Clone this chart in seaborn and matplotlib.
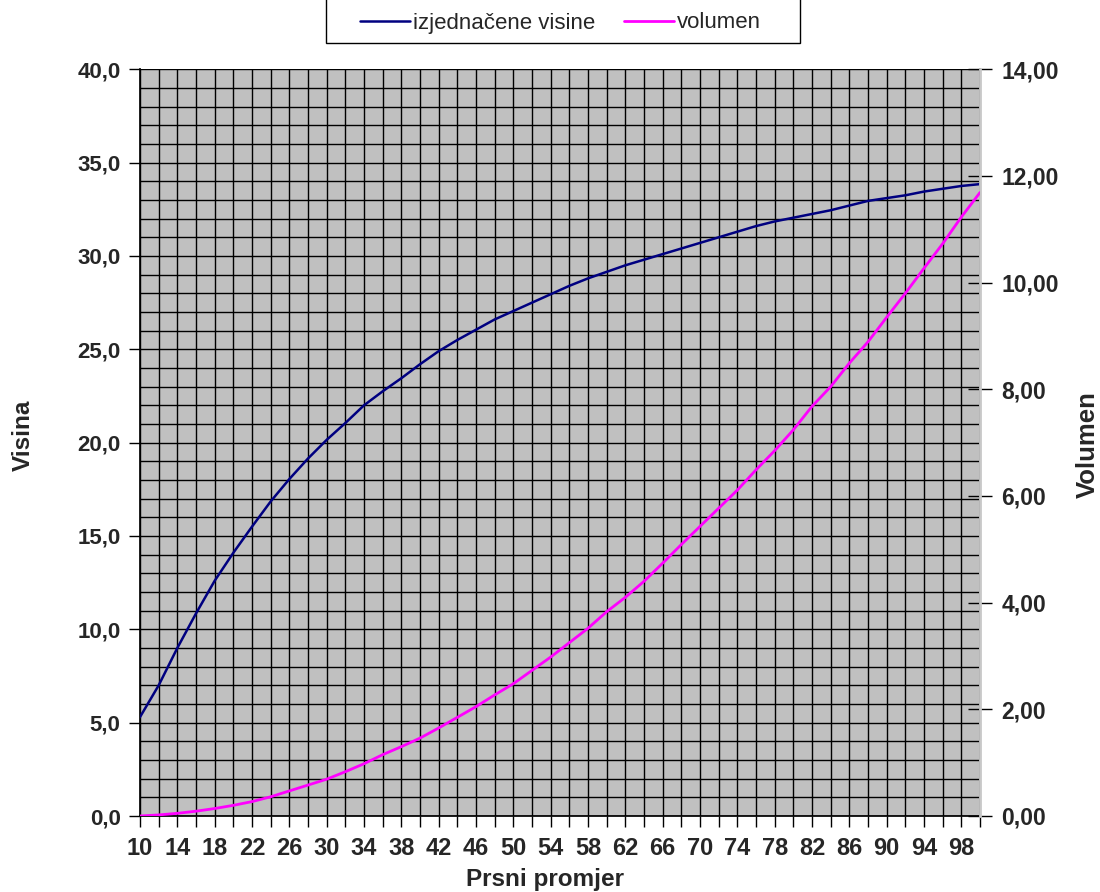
import matplotlib
matplotlib.use('Agg')
import matplotlib.pyplot as plt
import seaborn as sns
import pandas as pd
from matplotlib.ticker import FuncFormatter, MultipleLocator
from matplotlib.lines import Line2D
from matplotlib.patches import Rectangle

# Prsni promjer (cm), classes every 2 cm
promjer = list(range(10, 101, 2))

# izjednacene visine (m)
visine = [5.3, 7.0, 9.0, 10.85, 12.6, 14.1, 15.5, 16.85, 18.05, 19.15,
          20.15, 21.05, 22.0, 22.75, 23.45, 24.2, 24.9, 25.5, 26.05, 26.6,
          27.05, 27.5, 27.95, 28.4, 28.8, 29.15, 29.5, 29.8, 30.1, 30.4,
          30.7, 31.0, 31.3, 31.6, 31.85, 32.05, 32.25, 32.45, 32.7, 32.95,
          33.1, 33.25, 33.45, 33.6, 33.75, 33.85]

# volumen (m3)
volumen = [0.0, 0.02, 0.05, 0.09, 0.14, 0.2, 0.27, 0.36, 0.47, 0.58,
           0.69, 0.83, 0.98, 1.15, 1.3, 1.46, 1.65, 1.85, 2.05, 2.27,
           2.48, 2.73, 2.98, 3.25, 3.52, 3.83, 4.1, 4.4, 4.74, 5.09,
           5.43, 5.77, 6.11, 6.49, 6.85, 7.24, 7.68, 8.05, 8.49, 8.89,
           9.35, 9.8, 10.27, 10.73, 11.23, 11.69]

x_labels = [str(v) if (v - 10) % 4 == 0 else '' for v in promjer]

sns.set_theme(style='white')
plt.rcParams['font.family'] = ['Liberation Sans', 'DejaVu Sans']

df = pd.DataFrame({'Prsni promjer': promjer, 'Visina': visine, 'Volumen': volumen})

fig = plt.figure(figsize=(11, 8.92), dpi=100)
ax = fig.add_axes([140 / 1100, 1 - 816 / 892, 840 / 1100, 746.7 / 892])
ax.set_facecolor('#C0C0C0')

sns.lineplot(data=df, x='Prsni promjer', y='Visina', ax=ax, color='#000080', linewidth=1.8, zorder=3)
ax2 = ax.twinx()
sns.lineplot(data=df, x='Prsni promjer', y='Volumen', ax=ax2, color='#FF00FF', linewidth=2.0, zorder=3)

ax.set_xlim(10, 100)
ax.set_ylim(0, 40)
ax2.set_ylim(0, 14)

# grid: vertical every 2, horizontal every 1
ax.set_xticks(promjer)
ax.set_xticklabels(x_labels)
ax.yaxis.set_major_locator(MultipleLocator(5))
ax.yaxis.set_minor_locator(MultipleLocator(1))
ax2.yaxis.set_major_locator(MultipleLocator(2))
ax.set_axisbelow(True)
ax.grid(True, which='both', color='black', linewidth=1.0)

comma1 = FuncFormatter(lambda v, p: f'{v:.1f}'.replace('.', ','))
comma2 = FuncFormatter(lambda v, p: f'{v:.2f}'.replace('.', ','))
ax.yaxis.set_major_formatter(comma1)
ax2.yaxis.set_major_formatter(comma2)

ax.tick_params(axis='x', which='major', direction='out', length=8, width=1, color='black',
               bottom=True, pad=7, labelsize=17)
ax.tick_params(axis='y', which='major', direction='out', length=8, width=1, color='black',
               left=True, pad=6, labelsize=16)
ax.tick_params(axis='y', which='minor', length=0)
ax2.tick_params(axis='y', which='major', direction='inout', length=17, width=1, color='black',
                right=True, pad=7, labelsize=16.5)
for lbl in ax.get_xticklabels() + ax.get_yticklabels() + ax2.get_yticklabels():
    lbl.set_fontweight('bold')

for a in (ax, ax2):
    a.spines['top'].set_visible(False)
ax.spines['left'].set_color('black')
ax.spines['bottom'].set_color('black')
ax2.spines['left'].set_visible(False)
ax2.spines['bottom'].set_visible(False)
ax2.spines['right'].set_color('#c8c8c8')
ax2.spines['right'].set_linewidth(2)

ax.set_xlabel('Prsni promjer', fontsize=17.5, fontweight='bold')
ax.set_ylabel('Visina', fontsize=17.5, fontweight='bold')
ax2.set_ylabel('Volumen', fontsize=18.5, fontweight='bold')
ax.xaxis.label.set_va('center')
ax.yaxis.label.set_va('center')
ax2.yaxis.label.set_va('center')
ax.xaxis.set_label_coords(0.482, -0.085)
ax.yaxis.set_label_coords(-0.139, 0.51)
ax2.yaxis.set_label_coords(1.1286, 0.498)

# legend box, its top runs off the figure like in the original
fig.patches.append(Rectangle((326 / 1100, 1 - 43 / 892), 474 / 1100, 60 / 892,
                             transform=fig.transFigure, facecolor='white',
                             edgecolor='black', linewidth=1.0))
handles = [Line2D([], [], color='#000080', linewidth=1.8),
           Line2D([], [], color='#FF00FF', linewidth=2.0)]
fig.legend(handles, ['izjednačene visine', 'volumen'], loc='center left',
           bbox_to_anchor=(360 / 1100, 1 - 23 / 892), ncol=2, fontsize=16,
           frameon=False, handlelength=2.25, handletextpad=0.14,
           columnspacing=1.3, borderpad=0, borderaxespad=0)

fig.savefig('out.png', dpi=100)
